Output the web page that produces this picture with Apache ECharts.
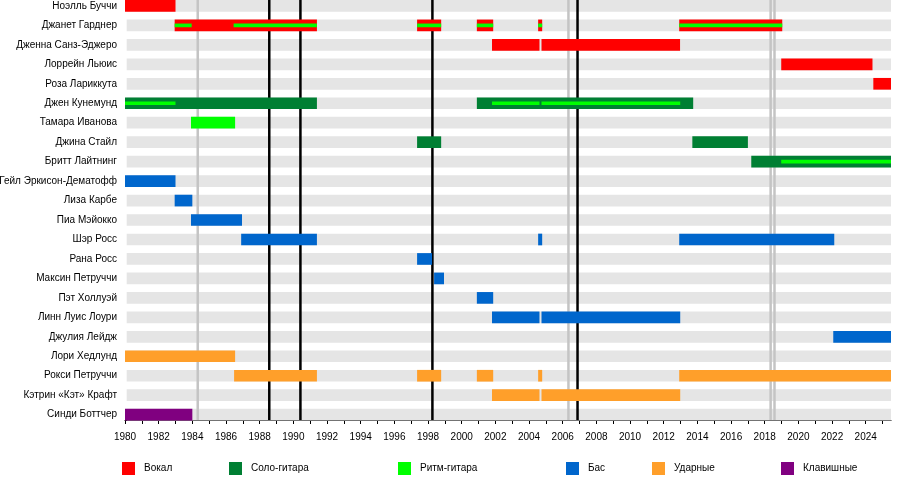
<!DOCTYPE html>
<html>
<head>
<meta charset="utf-8">
<script src="https://cdn.jsdelivr.net/npm/echarts@6/dist/echarts.min.js"></script>
<style>
html, body { margin: 0; padding: 0; background: #fff; }
#main { width: 910px; height: 480px; }
</style>
</head>
<body>
<div id="main"></div>
<script>
// участники, сверху вниз
var members = [
    'Ноэлль Буччи', 'Джанет Гарднер', 'Дженна Санз-Эджеро', 'Лоррейн Льюис',
    'Роза Лариккута', 'Джен Кунемунд', 'Тамара Иванова', 'Джина Стайл',
    'Бритт Лайтнинг', 'Гейл Эркисон-Дематофф', 'Лиза Карбе', 'Пиа Мэйокко',
    'Шэр Росс', 'Рана Росс', 'Максин Петруччи', 'Пэт Холлуэй',
    'Линн Луис Лоури', 'Джулия Лейдж', 'Лори Хедлунд', 'Рокси Петруччи',
    'Кэтрин «Кэт» Крафт', 'Синди Боттчер'
];

// [строка, начало, конец]
var vocals = [
    [0, 1980, 1983], [1, 1982.95, 1991.4], [1, 1997.35, 1998.78], [1, 2000.9, 2001.87],
    [1, 2004.54, 2004.78], [1, 2012.92, 2019.04], [2, 2001.8, 2004.62], [2, 2004.74, 2012.97],
    [3, 2018.98, 2024.4], [4, 2024.45, 2025.5]
];
var leadGuitar = [
    [5, 1980, 1991.4], [5, 2000.9, 2013.75], [7, 1997.35, 1998.78], [7, 2013.7, 2017.0],
    [8, 2017.2, 2025.5]
];
// последний столбец: 1 - полная полоса, 0 - тонкая линия поверх
var rhythmGuitar = [
    [6, 1983.92, 1986.54, 1],
    [1, 1982.95, 1983.96, 0], [1, 1986.45, 1991.4, 0], [1, 1997.35, 1998.78, 0],
    [1, 2000.9, 2001.87, 0], [1, 2004.54, 2004.78, 0], [1, 2012.92, 2019.04, 0],
    [5, 1980, 1983, 0], [5, 2001.8, 2004.62, 0], [5, 2004.74, 2012.98, 0],
    [8, 2018.98, 2025.5, 0]
];
var bass = [
    [9, 1980, 1983], [10, 1982.95, 1984.0], [11, 1983.92, 1986.95], [12, 1986.9, 1991.4],
    [12, 2004.54, 2004.78], [12, 2012.92, 2022.13], [13, 1997.35, 1998.24],
    [14, 1998.36, 1998.95], [15, 2000.9, 2001.87], [16, 2001.8, 2004.62],
    [16, 2004.74, 2012.98], [17, 2022.07, 2025.5]
];
var drums = [
    [18, 1980, 1986.54], [19, 1986.48, 1991.4], [19, 1997.35, 1998.78], [19, 2000.9, 2001.87],
    [19, 2004.54, 2004.78], [19, 2012.92, 2025.5], [20, 2001.8, 2004.62], [20, 2004.74, 2012.98]
];
var keyboards = [
    [21, 1980, 1984.0]
];

// студийные альбомы и прочие релизы
var albums = [1988.57, 1990.42, 1998.26, 2006.88];
var otherReleases = [1984.32, 2006.34, 2018.35, 2018.58];

var yearMin = 1980;
var yearMax = 2025.5;
var axisShift = 4.4;

var myChart = echarts.init(document.getElementById('main'));

function renderBar(params, api) {
    var row = api.value(0);
    var p0 = api.coord([api.value(1), row]);
    var p1 = api.coord([api.value(2), row]);
    var thin = api.value(3) === 0;
    var h = api.size([0, 1])[1] * (thin ? 0.19 : 0.6);
    return {
        type: 'rect',
        shape: { x: p0[0], y: p0[1] - h / 2, width: p1[0] - p0[0], height: h },
        style: { fill: api.visual('color') }
    };
}

function lineRenderer(color) {
    return function(params, api) {
        var x = api.coord([api.value(0), 0])[0];
        var cs = params.coordSys;
        return {
            type: 'line',
            shape: { x1: x, y1: cs.y, x2: x, y2: cs.y + cs.height - axisShift },
            style: { stroke: color, lineWidth: 2.5 }
        };
    };
}

var bands = [];
for (var i = 0; i < members.length; i++) {
    bands.push([i, 1980.1, yearMax]);
}

var roles = [
    { name: 'Вокал', color: '#ff0000', data: vocals, left: 122 },
    { name: 'Соло-гитара', color: '#007f33', data: leadGuitar, left: 229 },
    { name: 'Ритм-гитара', color: '#00ff00', data: rhythmGuitar, left: 398 },
    { name: 'Бас', color: '#0066cc', data: bass, left: 566 },
    { name: 'Ударные', color: '#ff9f2a', data: drums, left: 652 },
    { name: 'Клавишные', color: '#800080', data: keyboards, left: 781 }
];

var series = [
    {
        type: 'custom', name: 'bands', z: 1, silent: true,
        renderItem: renderBar,
        itemStyle: { color: '#e5e5e5' },
        encode: { x: [1, 2], y: 0 },
        data: bands
    },
    {
        type: 'custom', name: 'releases', z: 2, silent: true,
        renderItem: lineRenderer('#c4c4c4'),
        encode: { x: 0 },
        data: otherReleases.map(function(v) { return [v]; })
    },
    {
        type: 'custom', name: 'albums', z: 2, silent: true,
        renderItem: lineRenderer('#000000'),
        encode: { x: 0 },
        data: albums.map(function(v) { return [v]; })
    }
];
var legends = [];
roles.forEach(function(r) {
    series.push({
        type: 'custom', name: r.name, z: 3,
        renderItem: renderBar,
        itemStyle: { color: r.color },
        encode: { x: [1, 2], y: 0 },
        data: r.data
    });
    legends.push({
        data: [r.name],
        left: r.left, top: 462, padding: 0,
        icon: 'rect', itemWidth: 13, itemHeight: 13,
        selectedMode: false,
        textStyle: { fontFamily: 'Liberation Sans', fontSize: 10, color: '#000', padding: [1, 0, 0, 4] }
    });
});

myChart.setOption({
    animation: false,
    backgroundColor: '#fff',
    textStyle: { fontFamily: 'Liberation Sans' },
    grid: { left: 125, right: 19, top: -3.8, bottom: 55.6, containLabel: false, outerBoundsMode: 'none' },
    legend: legends,
    xAxis: {
        type: 'value',
        min: yearMin, max: yearMax, interval: 1,
        offset: -axisShift,
        splitLine: { show: false },
        axisLine: { show: true, lineStyle: { color: '#000', width: 1 } },
        axisTick: { show: true, length: 4, lineStyle: { color: '#000' } },
        axisLabel: {
            color: '#000', fontSize: 10, margin: 12, fontFamily: 'Liberation Sans',
            showMaxLabel: false,
            formatter: function(v) { return v % 2 === 0 ? String(v) : ''; }
        }
    },
    yAxis: {
        type: 'category',
        data: members,
        inverse: true,
        axisLine: { show: false },
        axisTick: { show: false },
        splitLine: { show: false },
        axisLabel: { color: '#000', fontSize: 10, margin: 8, fontFamily: 'Liberation Sans', interval: 0 }
    },
    series: series
});
</script>
</body>
</html>
